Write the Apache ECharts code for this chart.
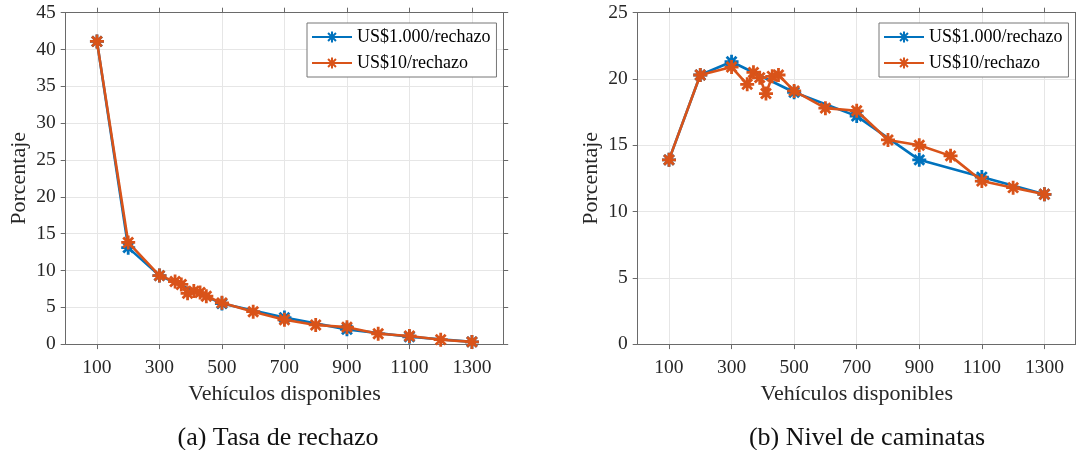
<!DOCTYPE html>
<html>
<head>
<meta charset="utf-8">
<script src="https://cdn.jsdelivr.net/npm/echarts@6/dist/echarts.min.js"></script>
<style>
html,body{margin:0;padding:0;background:#fff;}
#chart{width:1076px;height:450px;}
</style>
</head>
<body>
<div id="chart"></div>
<script>
// ---- data ----
const xOrange = [100,200,300,350,370,390,410,430,450,500,600,700,800,900,1000,1100,1200,1300];
const xBlue = [100,200,300,500,700,900,1100,1300];
const rechazoBlue = [41.1,13.1,9.3,5.5,3.6,2.0,1.0,0.3];
const rechazoOrange = [41.1,13.8,9.3,8.5,8.1,6.9,7.2,7.0,6.5,5.6,4.4,3.3,2.6,2.3,1.4,1.1,0.6,0.3];
const caminataBlue = [13.9,20.3,21.3,19.0,17.2,13.9,12.6,11.3];
const caminataOrange = [13.9,20.3,20.9,19.6,20.5,20.1,18.9,20.2,20.3,19.1,17.8,17.6,15.4,15.0,14.2,12.3,11.8,11.3];
const xTicks = [100,300,500,700,900,1100,1300];
const seriesNames = ['US$1.000/rechazo','US$10/rechazo'];
const captions = ['(a) Tasa de rechazo','(b) Nivel de caminatas'];
const xName = 'Vehículos disponibles';
const yName = 'Porcentaje';

// ---- styling ----
const FONT = "'Liberation Serif','Times New Roman',serif";
const TXT = '#262626';
const AXC = '#6a6a6a';
const GRIDC = '#e6e6e6';
const BLUE = '#0072BD';
const ORANGE = '#D95319';
const STAR = 'path://M0,-10L0,10M-10,0L10,0M-7.07,-7.07L7.07,7.07M-7.07,7.07L7.07,-7.07';

const pair = (xs, ys) => xs.map((x, i) => [x, ys[i]]);
const plain = v => String(v);

const grids = [
  {left: 65.7, top: 12.7, width: 437.5, height: 331.4},
  {left: 637.7, top: 12.7, width: 438, height: 331.4}
];
const yMax = [45, 25];

const xAxes = [], yAxes = [];
grids.forEach((g, i) => {
  xAxes.push({
    type: 'value', gridIndex: i, min: 0, max: 1400, position: 'bottom',
    name: xName, nameLocation: 'middle', nameGap: 36,
    nameTextStyle: {fontFamily: FONT, fontSize: 22, color: TXT},
    axisLine: {show: true, onZero: false, lineStyle: {color: AXC, width: 1}},
    axisTick: {show: true, inside: false, length: 5, customValues: xTicks, lineStyle: {color: AXC}},
    axisLabel: {show: true, customValues: xTicks, formatter: plain, margin: 14, fontFamily: FONT, fontSize: 19.5, color: TXT},
    splitLine: {show: true, lineStyle: {color: GRIDC, width: 1}}
  });
  xAxes.push({
    type: 'value', gridIndex: i, min: 0, max: 1400, position: 'top',
    axisLine: {show: true, onZero: false, lineStyle: {color: AXC, width: 1}},
    axisTick: {show: true, inside: false, length: 5, customValues: xTicks, lineStyle: {color: AXC}},
    axisLabel: {show: false, customValues: xTicks},
    splitLine: {show: false}
  });
  yAxes.push({
    type: 'value', gridIndex: i, min: 0, max: yMax[i], interval: 5, position: 'left',
    name: yName, nameLocation: 'middle', nameGap: 35,
    nameTextStyle: {fontFamily: FONT, fontSize: 22, color: TXT},
    axisLine: {show: true, onZero: false, lineStyle: {color: AXC, width: 1}},
    axisTick: {show: true, inside: false, length: 5, lineStyle: {color: AXC}},
    axisLabel: {show: true, formatter: plain, margin: 10, fontFamily: FONT, fontSize: 19.5, color: TXT},
    splitLine: {show: true, lineStyle: {color: GRIDC, width: 1}}
  });
  yAxes.push({
    type: 'value', gridIndex: i, min: 0, max: yMax[i], interval: 5, position: 'right',
    axisLine: {show: true, onZero: false, lineStyle: {color: AXC, width: 1}},
    axisTick: {show: true, inside: false, length: 5, lineStyle: {color: AXC}},
    axisLabel: {show: false},
    splitLine: {show: false}
  });
});

function mkSeries(name, color, data, gi, z) {
  return {
    type: 'line', name: name, data: data,
    xAxisIndex: gi * 2, yAxisIndex: gi * 2,
    symbol: STAR, symbolSize: 14, showAllSymbol: true,
    lineStyle: {color: color, width: 2.6},
    itemStyle: {color: color, borderColor: color, borderWidth: 2.8},
    z: z, animation: false, emphasis: {disabled: true}
  };
}

const series = [
  mkSeries(seriesNames[0], BLUE, pair(xBlue, rechazoBlue), 0, 2),
  mkSeries(seriesNames[1], ORANGE, pair(xOrange, rechazoOrange), 0, 3),
  mkSeries(seriesNames[0], BLUE, pair(xBlue, caminataBlue), 1, 2),
  mkSeries(seriesNames[1], ORANGE, pair(xOrange, caminataOrange), 1, 3)
];

const legendBase = {
  orient: 'vertical', top: 23, data: seriesNames,
  itemWidth: 40, itemHeight: 14, itemGap: 8, padding: [5, 6, 5, 4],
  borderColor: '#777', borderWidth: 1, backgroundColor: '#fff',
  textStyle: {fontFamily: FONT, fontSize: 18, color: '#000'},
  selectedMode: false
};

const option = {
  backgroundColor: '#fff',
  animation: false,
  grid: grids,
  xAxis: xAxes,
  yAxis: yAxes,
  legend: [
    Object.assign({}, legendBase, {left: 307}),
    Object.assign({}, legendBase, {left: 879})
  ],
  title: [
    {text: captions[0], left: 273, top: 420, textAlign: 'center',
     textStyle: {fontFamily: FONT, fontSize: 26, fontWeight: 'normal', color: '#111'}},
    {text: captions[1], left: 862, top: 420, textAlign: 'center',
     textStyle: {fontFamily: FONT, fontSize: 26, fontWeight: 'normal', color: '#111'}}
  ],
  series: series
};

const chart = echarts.init(document.getElementById('chart'), null, {renderer: 'canvas'});
chart.setOption(option);
</script>
</body>
</html>
